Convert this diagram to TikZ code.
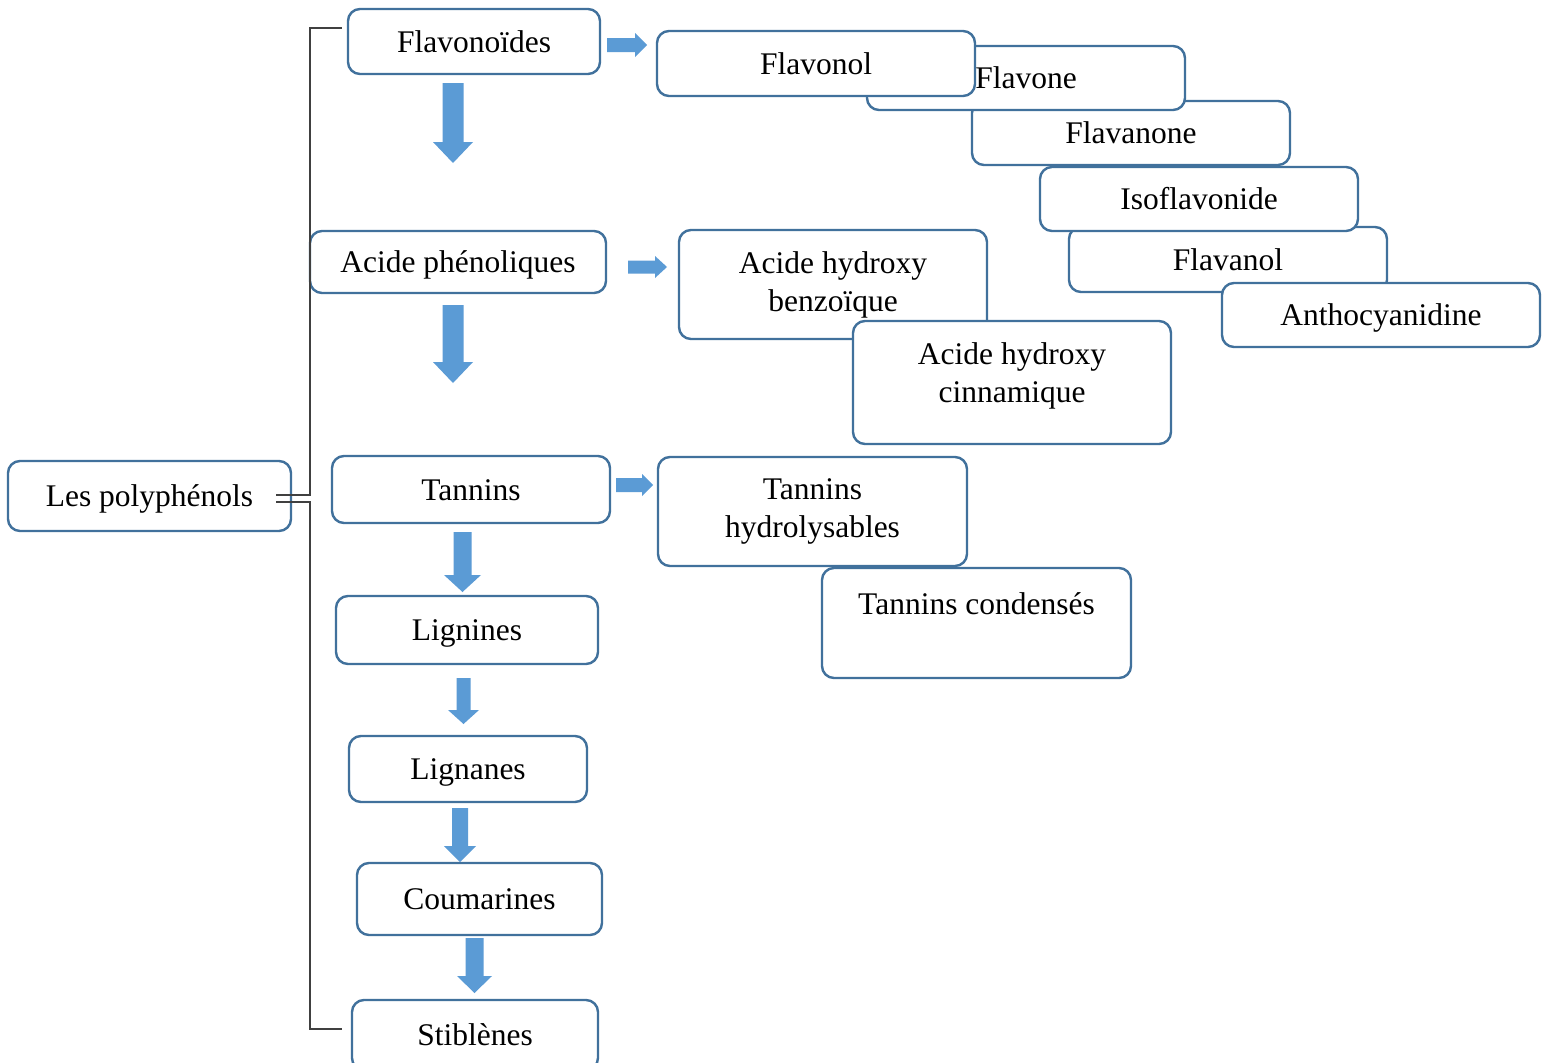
\documentclass[tikz,border=0pt]{standalone}
\usepackage{fontspec}
\setmainfont{Liberation Serif}
\usetikzlibrary{calc}
\definecolor{boxline}{RGB}{65,113,156}
\definecolor{arrfill}{RGB}{91,155,213}
\newcommand\BlockDown[6]{% cx, top, bottom, shaft half width, head half width, head length
  \fill[arrfill] ({#1-#4},#2) -- ({#1+#4},#2) -- ({#1+#4},{#3-#6}) -- ({#1+#5},{#3-#6}) -- (#1,#3) -- ({#1-#5},{#3-#6}) -- ({#1-#4},{#3-#6}) -- cycle;}
\newcommand\BlockRight[6]{% left, right, cy, shaft half width, head half width, head length
  \fill[arrfill] (#1,{#3-#4}) -- ({#2-#6},{#3-#4}) -- ({#2-#6},{#3-#5}) -- (#2,#3) -- ({#2-#6},{#3+#5}) -- ({#2-#6},{#3+#4}) -- (#1,{#3+#4}) -- cycle;}
\tikzset{
  box/.style={draw=boxline, line width=2.4pt, rounded corners=12pt, fill=white,
    inner sep=0pt, align=center, font=\fontsize{31.5}{38}\selectfont},
  oneline/.style={text height=28pt, text depth=7pt},
  bracket/.style={draw=black!75, line width=1.6pt},
}
\begin{document}
\begin{tikzpicture}[x=1pt,y=-1pt]
\clip (0,0) rectangle (1543,1063);
\fill[white] (0,0) rectangle (1543,1063);
% left column
\node[box, oneline, minimum width=283pt, minimum height=70pt] (poly) at (149.5,496) {Les polyphénols};
\node[box, oneline, minimum width=252pt, minimum height=65pt] (flavonoides) at (474,41.5) {Flavonoïdes};
\node[box, oneline, minimum width=296pt, minimum height=62pt] (acide) at (458,262) {Acide phénoliques};
\node[box, oneline, minimum width=278pt, minimum height=67pt] (tannins) at (471,489.5) {Tannins};
\node[box, oneline, minimum width=262pt, minimum height=68pt] (lignines) at (467,630) {Lignines};
\node[box, oneline, minimum width=238pt, minimum height=66pt] (lignanes) at (468,769) {Lignanes};
\node[box, oneline, minimum width=245pt, minimum height=72pt] (coumarines) at (479.5,899) {Coumarines};
\node[box, oneline, minimum width=246pt, minimum height=70pt] (stilbenes) at (475,1035) {Stiblènes};
% flavonoid subclasses
\node[box, oneline, minimum width=318pt, minimum height=64pt] (flavanone) at (1131,133) {Flavanone};
\node[box, oneline, minimum width=318pt, minimum height=64pt] (flavone) at (1026,78) {Flavone};
\node[box, oneline, minimum width=318pt, minimum height=65pt] (flavonol) at (816,63.5) {Flavonol};
\node[box, oneline, minimum width=318pt, minimum height=65pt] (flavanol) at (1228,259.5) {Flavanol};
\node[box, oneline, minimum width=318pt, minimum height=64pt] (isoflav) at (1199,199) {Isoflavonide};
\node[box, oneline, minimum width=318pt, minimum height=64pt] (antho) at (1381,315) {Anthocyanidine};
% phenolic acids
\node[box, minimum width=308pt, minimum height=109pt] (benzo) at (833,284.5) {Acide hydroxy\\benzoïque};
\node[box, minimum width=318pt, minimum height=123pt] (cinna) at (1012,382.5) {Acide hydroxy\\cinnamique\rule[-19pt]{0pt}{19pt}};
% tannins
\node[box, minimum width=309pt, minimum height=109pt] (hydro) at (812.5,511.5) {Tannins\\hydrolysables};
\node[box, minimum width=309pt, minimum height=110pt] (cond) at (976.5,623) {Tannins condensés\\\mbox{}};
% bracket
\draw[bracket] ($(poly.east)+(-16,-1)$) -- ++(34,0) |- ($(flavonoides.west)+(-5,-13.5)$);
\draw[bracket] ($(poly.east)+(-16,6)$) -- ++(34,0) |- ($(stilbenes.west)+(-9,-6)$);
% block arrows
\BlockDown{453}{83}{163}{10.5}{20}{21}
\BlockDown{453}{305}{383}{10.5}{20}{21}
\BlockDown{462.5}{532}{592}{9}{18.5}{17}
\BlockDown{463.5}{678}{724}{7}{15.5}{14}
\BlockDown{460}{808}{862}{8}{16}{16}
\BlockDown{474.5}{938}{993}{9}{17.5}{17}
\BlockRight{607}{647}{45}{7}{12}{12}
\BlockRight{628}{667}{267}{6.5}{11}{12}
\BlockRight{616}{653}{485}{7}{11}{11}
\end{tikzpicture}
\end{document}
